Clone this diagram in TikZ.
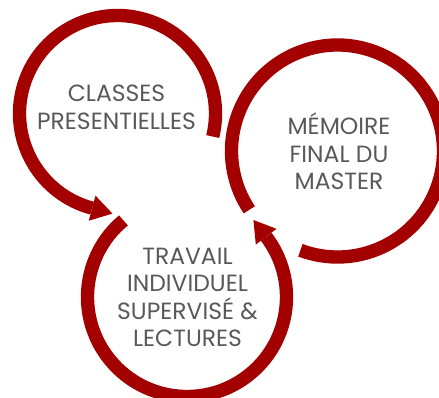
\documentclass[tikz,border=0pt]{standalone}
\usepackage{fontspec}
\newfontfamily\labelfont{Poppins}
\usetikzlibrary{calc}
\definecolor{ringred}{RGB}{163,0,0}
\definecolor{labelgray}{RGB}{89,89,89}

\begin{document}
\begin{tikzpicture}[x=0.75pt, y=0.75pt,
    ring/.style={draw=ringred, line width=10pt},
    head/.style={fill=ringred},
    label/.style={text=labelgray, font=\labelfont\fontsize{17.6}{20.6}\selectfont, align=center, inner sep=0pt}]

    \useasboundingbox (0,0) rectangle (439,-397);
    \clip (0,0) rectangle (439,-397);

    \coordinate (c1) at (117.5,-113.5);
    \coordinate (c2) at (337.5,-151);
    \coordinate (c3) at (187,-297);

    % Draw the arc which center is (c1), its head points into the third ring
    \draw[ring] ($(c1)+(-13.6:98)$) arc (-13.6:255:98);
    \fill[head] ($(c1)+(255:111)$) -- ($(c1)+(255:98)+(345:21)$) -- ($(c1)+(255:85)$) -- cycle;

    % Second ring, open at the lower left
    \draw[ring] ($(c2)+(249.5:106)$) arc (249.5:573.7:106);

    % Third ring, its head points into the second one
    \draw[ring] ($(c3)+(129.7:99.5)$) arc (129.7:397.3:99.5);
    \fill[head] ($(c3)+(37.3:112.5)$) -- ($(c3)+(37.3:99.5)+(127.3:21)$) -- ($(c3)+(37.3:86.5)$) -- cycle;

    \node[label] (classes) at (116.5,-107.5) {CLASSES\\PRESENTIELLES};
    \node[label] (memoire) at (339,-151.5) {MÉMOIRE\\FINAL DU\\MASTER};
    \node[label] (travail) at (187.5,-297.5) {TRAVAIL\\INDIVIDUEL\\SUPERVISÉ \&\\LECTURES};

\end{tikzpicture}
\end{document}
